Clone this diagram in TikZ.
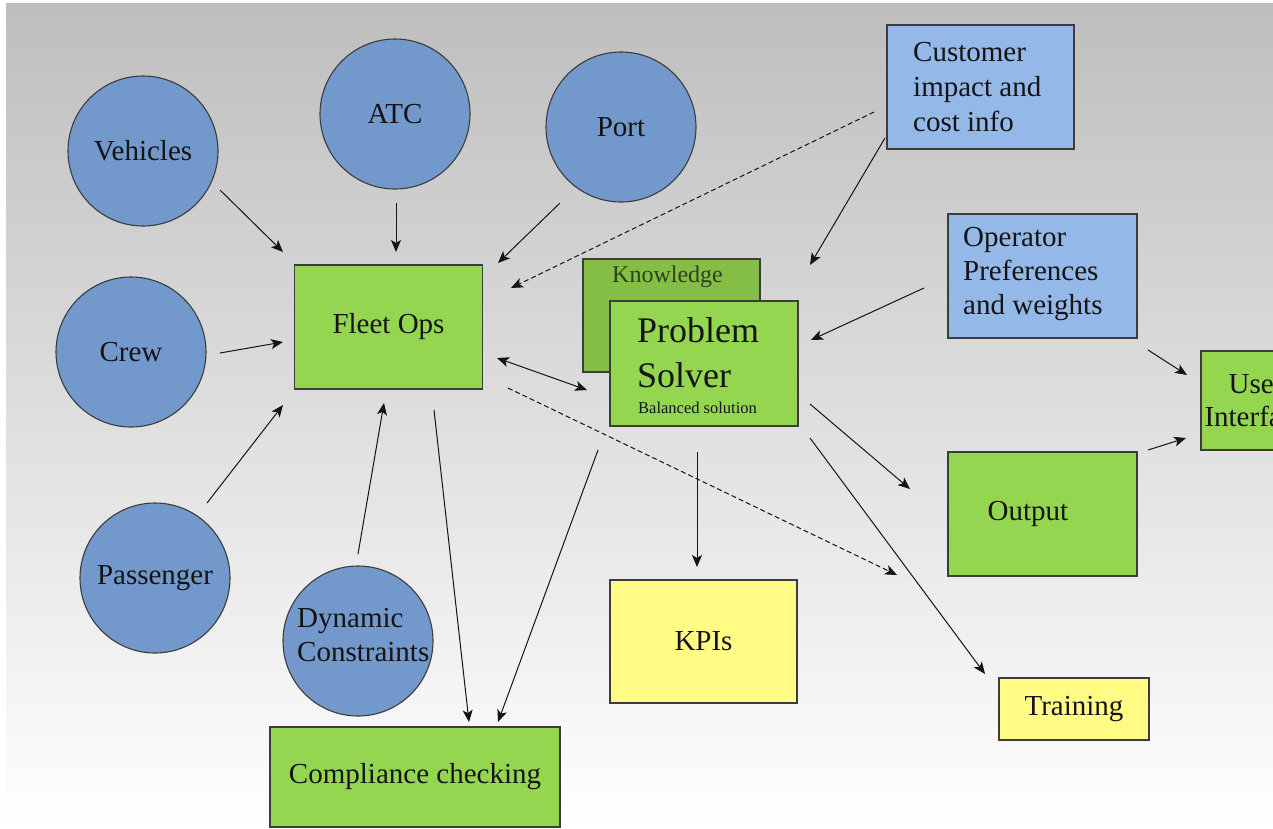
\documentclass[tikz,border=0pt]{standalone}
\usepackage{fontspec}
\setmainfont{Liberation Serif}
\usetikzlibrary{arrows.meta}
\definecolor{cblue}{RGB}{114,152,204}
\definecolor{lblue}{RGB}{148,184,232}
\definecolor{cgreen}{RGB}{148,214,80}
\definecolor{kgreen}{RGB}{132,190,68}
\definecolor{cyellow}{RGB}{255,251,132}
\definecolor{edge}{RGB}{60,60,60}
\definecolor{bgtop}{RGB}{190,190,190}
\definecolor{ink}{RGB}{20,20,20}
\definecolor{kink}{RGB}{45,65,30}
\begin{document}
\begin{tikzpicture}[x=1pt,y=-1pt,
  txt/.style={font=\fontsize{29}{34}\selectfont, text=ink, inner sep=0pt},
  circ/.style={circle, draw=edge, fill=cblue, line width=1.1pt, minimum size=150pt, inner sep=0pt, font=\fontsize{29}{34}\selectfont, text=ink},
  box/.style={rectangle, draw=edge, line width=1.1pt, inner sep=0pt, font=\fontsize{29}{34}\selectfont, text=ink},
  gbox/.style={box, fill=cgreen},
  bbox/.style={box, fill=lblue},
  ybox/.style={box, fill=cyellow},
  arr/.style={draw=ink, line width=1pt, -{Stealth[length=12pt,width=10pt,inset=3pt]}},
  darr/.style={arr, dash pattern=on 5pt off 3pt},
  barr/.style={draw=ink, line width=1pt, {Stealth[length=12pt,width=10pt,inset=3pt]}-{Stealth[length=12pt,width=10pt,inset=3pt]}},
]
\useasboundingbox (0,0) rectangle (1273,828);
\clip (0,0) rectangle (1273,828);
\fill[white] (0,0) rectangle (1273,828);
\shade[top color=bgtop, bottom color=white] (6,3) rectangle (1273,828);

% circles
\node[circ] (veh) at (143,151) {Vehicles};
\node[circ] (atc) at (395,114) {ATC};
\node[circ] (port) at (621,127) {Port};
\node[circ] (crew) at (131,352) {Crew};
\node[circ] (pass) at (155,578) {Passenger};
\node[circ] (dyn) at (358,641) {};
\node[txt, align=left, anchor=west] (dyntext) at (297,635) {Dynamic\\Constraints};

% boxes
\node[gbox, minimum width=188pt, minimum height=124pt] (fleet) at (388.5,327) {Fleet Ops};
\node[box, fill=kgreen, minimum width=177pt, minimum height=113pt] (know) at (671.5,315.5) {};
\node[txt, font=\fontsize{24}{28}\selectfont, text=kink, anchor=west] (knowtext) at (612,277) {Knowledge};
\node[gbox, minimum width=188pt, minimum height=125pt] (ps) at (704,363.5) {};
\node[txt, font=\fontsize{36}{40}\selectfont, anchor=base west] (pst1) at (637,342) {Problem};
\node[txt, font=\fontsize{36}{40}\selectfont, anchor=base west] (pst2) at (637,387) {Solver};
\node[txt, font=\fontsize{16.5}{20}\selectfont, anchor=base west] (pst3) at (638,413) {Balanced solution};

\node[bbox, minimum width=187pt, minimum height=124pt] (cust) at (980.5,87) {};
\node[txt, align=left, anchor=west, font=\fontsize{29}{35}\selectfont] (custtext) at (913,87) {Customer\\impact and\\cost info};
\node[bbox, minimum width=189pt, minimum height=124pt] (oper) at (1042.5,276) {};
\node[txt, align=left, anchor=west] (opertext) at (963,274) {Operator\\Preferences\\and weights};
\node[gbox, minimum width=110pt, minimum height=99pt, align=center, font=\fontsize{29}{33}\selectfont] (ui) at (1256,400.5) {User\\Interface};
\node[gbox, minimum width=189pt, minimum height=124pt] (out) at (1042.5,514) {};
\node[txt] (outtext) at (1028,514) {Output};
\node[ybox, minimum width=150pt, minimum height=62pt] (train) at (1074,709) {Training};
\node[ybox, minimum width=187pt, minimum height=123pt] (kpi) at (703.5,641.5) {KPIs};
\node[gbox, minimum width=290pt, minimum height=100pt] (comp) at (415,777) {Compliance checking};

% connector end points
\coordinate (a1s) at (220,190);  \coordinate (a1e) at (283,252);
\coordinate (a2s) at (396,203);  \coordinate (a2e) at (396,252);
\coordinate (a3s) at (560,203);  \coordinate (a3e) at (498,263);
\coordinate (a4s) at (874,112);  \coordinate (a4e) at (511,288);
\coordinate (a5s) at (885,138);  \coordinate (a5e) at (810,265);
\coordinate (a6s) at (924,288);  \coordinate (a6e) at (811,340);
\coordinate (a7s) at (220,353);  \coordinate (a7e) at (283,342);
\coordinate (a8s) at (207,503);  \coordinate (a8e) at (283,405);
\coordinate (a9s) at (358,554);  \coordinate (a9e) at (384,403);
\coordinate (a10s) at (497,358); \coordinate (a10e) at (587,390);
\coordinate (a11s) at (434,410); \coordinate (a11e) at (469,722);
\coordinate (a12s) at (598,450); \coordinate (a12e) at (498,722);
\coordinate (a13s) at (508,388); \coordinate (a13e) at (897,575);
\coordinate (a14s) at (697,452); \coordinate (a14e) at (697,567);
\coordinate (a15s) at (810,404); \coordinate (a15e) at (910,489);
\coordinate (a16s) at (810,438); \coordinate (a16e) at (985,674);
\coordinate (a17s) at (1148,350); \coordinate (a17e) at (1187,375);
\coordinate (a18s) at (1148,450); \coordinate (a18e) at (1186,438);

\draw[arr] (a1s) -- (a1e);
\draw[arr] (a2s) -- (a2e);
\draw[arr] (a3s) -- (a3e);
\draw[darr] (a4s) -- (a4e);
\draw[arr] (a5s) -- (a5e);
\draw[arr] (a6s) -- (a6e);
\draw[arr] (a7s) -- (a7e);
\draw[arr] (a8s) -- (a8e);
\draw[arr] (a9s) -- (a9e);
\draw[barr] (a10s) -- (a10e);
\draw[arr] (a11s) -- (a11e);
\draw[arr] (a12s) -- (a12e);
\draw[darr] (a13s) -- (a13e);
\draw[arr] (a14s) -- (a14e);
\draw[arr] (a15s) -- (a15e);
\draw[arr] (a16s) -- (a16e);
\draw[arr] (a17s) -- (a17e);
\draw[arr] (a18s) -- (a18e);
\end{tikzpicture}
\end{document}
